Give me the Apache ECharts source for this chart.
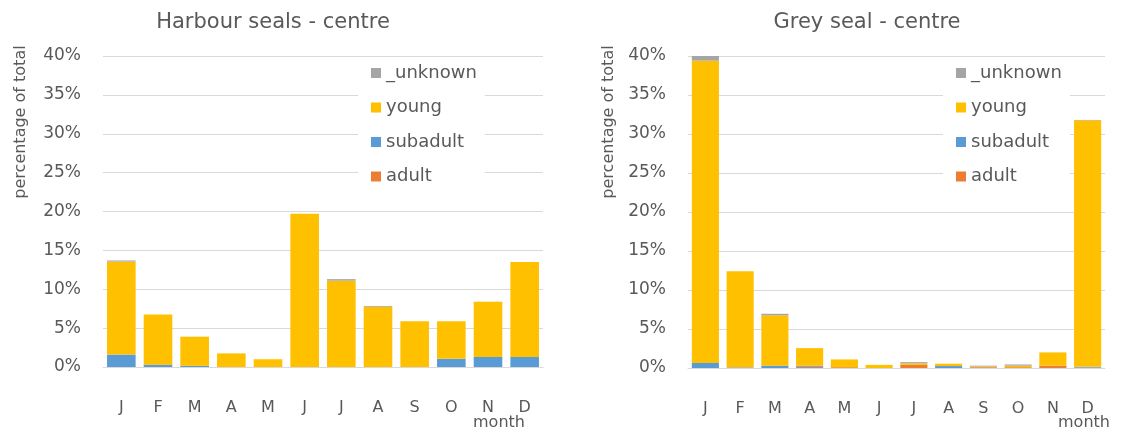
<!DOCTYPE html>
<html>
<head>
<meta charset="utf-8">
<script src="https://cdn.jsdelivr.net/npm/echarts@6/dist/echarts.min.js"></script>
<style>html,body{margin:0;padding:0;background:#fff;}#c{width:1123px;height:435px;}</style>
</head>
<body>
<div id="c"></div>
<script>
const months = ['J','F','M','A','M','J','J','A','S','O','N','D'];
const yTicks = [0,5,10,15,20,25,30,35,40];
// Harbour seals - centre (percent of total)
const harbourAdult    = [0,0,0,0,0,0,0,0,0,0,0,0];
const harbourSubadult = [1.6,0.3,0.15,0,0,0,0,0,0,1.05,1.3,1.3];
const harbourYoung    = [11.95,6.45,3.75,1.75,1.0,19.7,11.1,7.75,5.9,4.85,7.1,12.2];
const harbourUnknown  = [0.15,0,0,0,0,0,0.2,0.1,0,0,0,0];
// Grey seal - centre (percent of total)
const greyAdult    = [0,0.05,0,0.15,0.1,0,0.4,0,0.1,0.1,0.3,0.05];
const greySubadult = [0.65,0.05,0.3,0.15,0,0,0,0.25,0,0,0,0.1];
const greyYoung    = [38.75,12.3,6.45,2.25,1.0,0.4,0.2,0.3,0.1,0.2,1.7,31.6];
const greyUnknown  = [0.6,0,0.2,0,0,0,0.15,0,0.1,0.15,0,0.05];

const seriesNames = ['adult','subadult','young','_unknown'];
const colors = {adult:'#ED7D31', subadult:'#5B9BD5', young:'#FFC000', _unknown:'#A5A5A5'};
const FONT = 'DejaVu Sans';
const TXT = '#595959';

const chart = echarts.init(document.getElementById('c'), null, {renderer:'canvas'});

function xAx(gi){
  return {type:'category', gridIndex:gi, data:months,
    axisLine:{lineStyle:{color:'#D9D9D9'}}, axisTick:{show:false},
    axisLabel:{color:TXT, fontFamily:FONT, fontSize:16, margin:33}};
}
function yAx(gi){
  return {type:'value', gridIndex:gi, min:yTicks[0], max:yTicks[yTicks.length-1], interval:5,
    axisLine:{show:false}, axisTick:{show:false},
    splitLine:{lineStyle:{color:'#D9D9D9'}},
    axisLabel:{color:TXT, fontFamily:FONT, fontSize:17, margin:22, formatter:'{value}%'}};
}
function mk(gi, arrs){
  return seriesNames.map((n,i)=>({
    name:n, type:'bar', stack:'s'+gi, xAxisIndex:gi, yAxisIndex:gi,
    data:arrs[i], barCategoryGap:'22%', itemStyle:{color:colors[n]},
    emphasis:{disabled:true}
  }));
}
function legend(left){
  return {left:left, top:64, orient:'vertical', itemGap:16.5, itemWidth:10, itemHeight:10,
    icon:'rect', backgroundColor:'#fff', padding:[0,8,8,13],
    data:['_unknown','young','subadult','adult'],
    textStyle:{color:TXT, fontFamily:FONT, fontSize:18}};
}

chart.setOption({
  animation:false,
  textStyle:{fontFamily:FONT},
  title:[
    {text:'Harbour seals - centre', left:268, top:7, textAlign:'center',
     textStyle:{color:TXT, fontFamily:FONT, fontSize:21, fontWeight:'normal'}},
    {text:'Grey seal - centre', left:862, top:7, textAlign:'center',
     textStyle:{color:TXT, fontFamily:FONT, fontSize:21, fontWeight:'normal'}}
  ],
  legend:[legend(358), legend(943)],
  grid:[
    {left:103, right:580, top:56, bottom:68},
    {left:688, right:18, top:56, bottom:67}
  ],
  xAxis:[xAx(0), xAx(1)],
  yAxis:[yAx(0), yAx(1)],
  series:[
    ...mk(0,[harbourAdult,harbourSubadult,harbourYoung,harbourUnknown]),
    ...mk(1,[greyAdult,greySubadult,greyYoung,greyUnknown])
  ],
  graphic:[
    {type:'text', x:13, y:122, rotation:Math.PI/2, style:{text:'percentage of total', fill:TXT, font:'16px "DejaVu Sans"', align:'center', verticalAlign:'top'}},
    {type:'text', x:601, y:122, rotation:Math.PI/2, style:{text:'percentage of total', fill:TXT, font:'16px "DejaVu Sans"', align:'center', verticalAlign:'top'}},
    {type:'text', x:499, y:423, style:{text:'month', fill:TXT, font:'16px "DejaVu Sans"', align:'center', verticalAlign:'middle'}},
    {type:'text', x:1084, y:423, style:{text:'month', fill:TXT, font:'16px "DejaVu Sans"', align:'center', verticalAlign:'middle'}}
  ]
});
</script>
</body>
</html>
